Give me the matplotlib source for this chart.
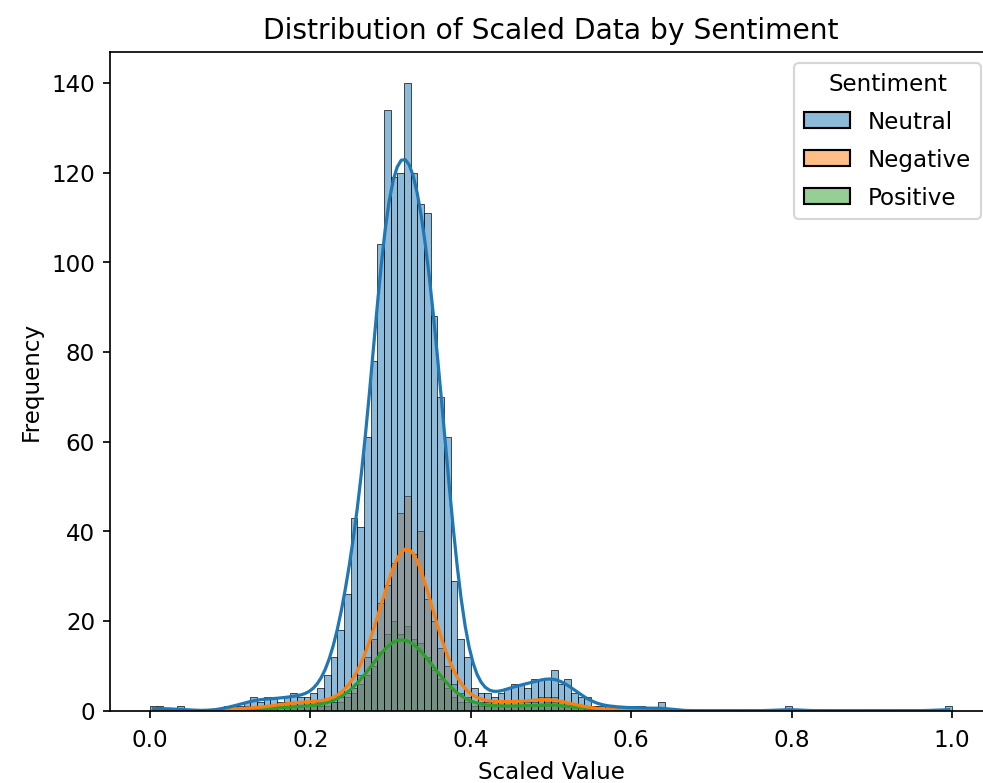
import numpy as np
import pandas as pd
import matplotlib
matplotlib.use("Agg")
import matplotlib.pyplot as plt
import seaborn as sns

# 120 equal bins over the scaled range [0, 1]
n_bins = 120
sentiments = ["Neutral", "Negative", "Positive"]

# counts per bin (bin i covers [i/120, (i+1)/120))
neutral_counts = [
    1, 1, 0, 0, 1, 0, 0, 0, 0, 0, 0, 1, 1, 1, 2, 3, 2, 3, 3, 2,
    3, 4, 3, 3, 4, 5, 8, 12, 18, 26, 43, 41, 61, 78, 104, 134, 119, 120, 140, 120,
    113, 111, 88, 70, 61, 29, 16, 12, 5, 4, 4, 3, 4, 5, 6, 6, 5, 7, 7, 7,
    9, 6, 7, 4, 3, 3, 1, 1, 1, 1, 1, 0, 1, 1, 0, 0, 2, 0, 0, 0,
    0, 0, 0, 0, 0, 0, 0, 0, 0, 0, 0, 0, 0, 0, 0, 1, 0, 0, 0, 0,
    0, 0, 0, 0, 0, 0, 0, 0, 0, 0, 0, 0, 0, 0, 0, 0, 0, 0, 0, 1,
]
negative_counts = [
    0, 0, 0, 0, 0, 0, 0, 0, 0, 0, 0, 0, 1, 0, 1, 0, 1, 1, 1, 1,
    2, 2, 2, 2, 2, 2, 2, 2, 3, 4, 5, 8, 12, 16, 24, 28, 33, 44, 48, 35,
    40, 25, 20, 14, 10, 6, 4, 3, 2, 2, 2, 2, 2, 2, 2, 2, 2, 2, 3, 3,
    3, 2, 2, 1, 1, 1, 0, 0, 1, 0, 0, 0, 0, 0, 0, 0, 0, 0, 0, 0,
    0, 0, 0, 0, 0, 0, 0, 0, 0, 0, 0, 0, 0, 0, 0, 0, 0, 0, 0, 0,
    0, 0, 0, 0, 0, 0, 0, 0, 0, 0, 0, 0, 0, 0, 0, 0, 0, 0, 0, 0,
]
positive_counts = [
    0, 0, 0, 0, 0, 0, 0, 0, 0, 0, 0, 0, 0, 0, 0, 0, 1, 0, 1, 0,
    1, 1, 1, 1, 1, 1, 1, 2, 2, 3, 4, 6, 8, 10, 13, 17, 20, 17, 19, 16,
    15, 12, 9, 7, 5, 3, 2, 2, 1, 1, 1, 1, 1, 1, 1, 1, 1, 1, 1, 2,
    2, 1, 1, 1, 0, 0, 1, 0, 0, 0, 0, 0, 0, 0, 0, 0, 0, 0, 0, 0,
    0, 0, 0, 0, 0, 0, 0, 0, 0, 0, 0, 0, 0, 0, 0, 0, 0, 0, 0, 0,
    0, 0, 0, 0, 0, 0, 0, 0, 0, 0, 0, 0, 0, 0, 0, 0, 0, 0, 0, 0,
]

edges = np.linspace(0, 1, n_bins + 1)
centers = (edges[:-1] + edges[1:]) / 2

# expand the counts back into one value per row
frames = []
for name, counts in zip(sentiments, [neutral_counts, negative_counts, positive_counts]):
    vals = np.repeat(centers, counts)
    frames.append(pd.DataFrame({"Scaled Value": vals, "Sentiment": name}))
df = pd.concat(frames, ignore_index=True)

plt.rcParams["font.size"] = 10.8
plt.rcParams["xtick.major.pad"] = 5

fig = plt.figure(figsize=(6.4, 5.1), dpi=153.6)
ax = fig.add_axes([0.1119, 0.0923, 0.8973, 0.8412])

sns.histplot(data=df, x="Scaled Value", hue="Sentiment", hue_order=sentiments,
             bins=edges, kde=True, ax=ax)
sns.move_legend(ax, "upper right", labelspacing=0.65, title="Sentiment")

ax.set_title("Distribution of Scaled Data by Sentiment", fontsize=13.2)
ax.set_xlabel("Scaled Value")
ax.set_ylabel("Frequency")

fig.savefig("out.png", dpi=153.6)
